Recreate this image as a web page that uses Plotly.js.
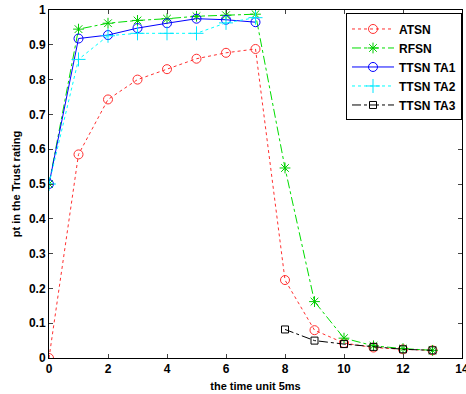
<!DOCTYPE html>
<html><head><meta charset="utf-8">
<script src="https://cdn.plot.ly/plotly-3.0.1.min.js"></script>
<style>body{margin:0;background:#fff}#c{width:466px;height:394px}</style>
</head><body><div id="c"></div>
<script>
const xFull = [0,1,2,3,4,5,6,7,8,9,10,11,12,13];
const atsn = [0,0.585,0.743,0.80,0.83,0.86,0.877,0.888,0.224,0.08,0.043,0.03,0.025,0.022];
const rfsn = [0.5,0.945,0.962,0.97,0.975,0.982,0.985,0.988,0.546,0.162,0.057,0.035,0.027,0.022];
const xTA = [0,1,2,3,4,5,6,7];
const ta1 = [0.5,0.918,0.928,0.948,0.962,0.975,0.972,0.965];
const ta2 = [0.5,0.858,0.926,0.933,0.933,0.933,0.963,0.978];
const xTA3 = [8,9,10,11,12,13];
const ta3 = [0.082,0.05,0.04,0.032,0.025,0.022];
const names = ['ATSN','RFSN','TTSN TA1','TTSN TA2','TTSN TA3'];
const xTicks = [0,2,4,6,8,10,12,14];

const traces = [
 {x:xFull,y:atsn,name:names[0],mode:'lines+markers',line:{color:'#ff3030',width:1,dash:'dot'},marker:{symbol:'circle-open',size:9,color:'#ff3030',line:{width:1}}},
 {x:xFull,y:rfsn,name:names[1],mode:'lines+markers',line:{color:'#00dd00',width:1,dash:'dashdot'},marker:{symbol:'asterisk-open',size:9,color:'#00cc00',line:{width:1,color:'#00cc00'}}},
 {x:xTA,y:ta1,name:names[2],mode:'lines+markers',line:{color:'#0000ff',width:1},marker:{symbol:'circle-open',size:9,color:'#0000ff',line:{width:1}}},
 {x:xTA,y:ta2,name:names[3],mode:'lines+markers',line:{color:'#00ffff',width:1,dash:'dot'},marker:{symbol:'cross-thin-open',size:10,color:'#00e5ff',line:{width:1,color:'#00e5ff'}}},
 {x:xTA3,y:ta3,name:names[4],mode:'lines+markers',line:{color:'#000000',width:1,dash:'dashdot'},marker:{symbol:'square-open',size:7,color:'#000000',line:{width:1}}}
];
const bf = {family:'Liberation Sans, Arial, sans-serif',size:12,color:'#000',weight:'bold'};
const layout = {
 width:466,height:394,
 margin:{l:49,r:4,t:10,b:36},
 paper_bgcolor:'#fff',plot_bgcolor:'#fff',
 font:{family:'Liberation Sans, Arial, sans-serif',size:11,color:'#000'},
 showlegend:true,
 legend:{x:1,y:0.99,xanchor:'right',yanchor:'top',xref:'paper',yref:'paper',bgcolor:'#fff',bordercolor:'#000',borderwidth:1,font:bf,tracegroupgap:0,itemwidth:42},
 xaxis:{range:[0,14],tickmode:'array',tickvals:xTicks,ticktext:xTicks.map(String),ticklabeloverflow:'allow',ticks:'inside',ticklen:4,mirror:'allticks',showline:true,linecolor:'#000',linewidth:1,showgrid:false,zeroline:false,
   tickfont:bf,
   title:{text:'the time unit 5ms',font:{family:'Liberation Sans, Arial, sans-serif',size:11,weight:'bold'},standoff:6}},
 yaxis:{range:[0,1],dtick:0.1,tick0:0,ticks:'inside',ticklen:4,mirror:'allticks',showline:true,linecolor:'#000',linewidth:1,showgrid:false,zeroline:false,
   tickfont:bf,
   title:{text:'pt in the Trust rating',font:{family:'Liberation Sans, Arial, sans-serif',size:11,weight:'bold'},standoff:6}}
};
Plotly.newPlot('c',traces,layout,{displayModeBar:false,staticPlot:true});
</script></body></html>
